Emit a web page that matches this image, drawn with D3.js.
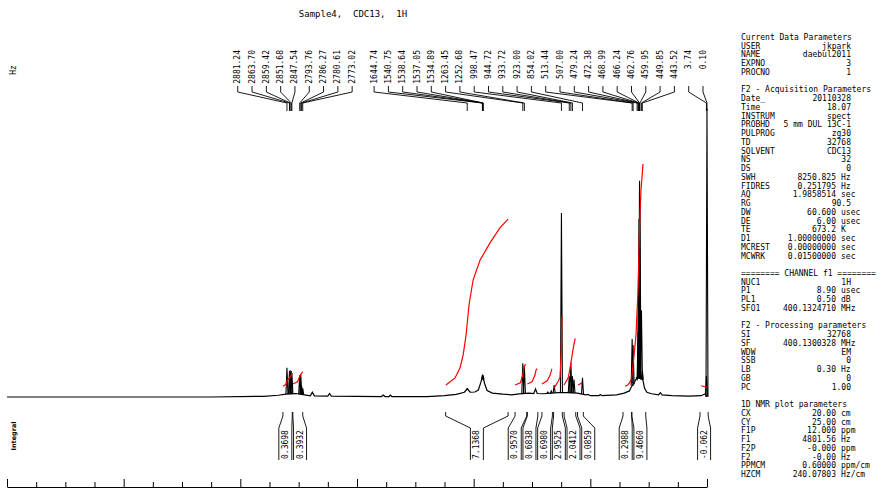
<!DOCTYPE html>
<html>
<head>
<meta charset="utf-8">
<script src="https://cdn.jsdelivr.net/npm/d3@7"></script>
<style>
  body { margin: 0; background: #fff; }
  svg text { font-family: "DejaVu Sans Mono", monospace; fill: #000; }
</style>
</head>
<body>
<svg id="chart" width="887" height="490"></svg>
<script>
// ---- data ----
const title = "Sample4,  CDC13,  1H";
const sf = 400.1300328;           // MHz, Hz -> ppm

// labelled lines (Hz) and their heights (tallest multiplet = 100)
const peakHz = [2881.24, 2863.70, 2859.42, 2851.68, 2847.54, 2793.76, 2786.27, 2780.61, 2773.02,
  1644.74, 1540.75, 1538.64, 1537.05, 1534.89, 1263.45, 1252.68, 998.47, 944.72, 933.72, 923.00,
  854.02, 513.44, 507.00, 479.24, 472.38, 468.99, 466.24, 462.76, 459.95, 449.85, 443.52, 3.74, 0.10];
const peakHeight = [13.5, 12, 12.3, 12, 11, 10, 10.2, 5, 4,
  3.5, 8.5, 9.8, 9.5, 8, 15.5, 14, 84.8, 9.5, 15.8, 9.5,
  8.8, 26.7, 24, 8, 30, 60, 82, 99.7, 90, 40, 12, 9.7, 133];

// unlabelled small lines (ppm)
const otherPpm = [2.73, 2.67, 2.62, 2.28];
const otherHeight = [2.3, 2.8, 5.5, 8];

// slow parts of the trace: [ppm, intensity]
const trace = [
  [12.0, 0], [8.5, 0], [7.60, 0.3], [7.35, 0.8], [7.22, 1.3], [7.05, 1.6], [6.90, 1.0], [6.80, 0.5],
  [6.765, 2.2], [6.73, 0.5], [6.50, 0.4], [6.47, 1.6], [6.44, 0.4], [5.58, 0.2], [5.55, 0.9], [5.52, 0.2],
  [5.45, 0.2], [5.43, 0.9], [5.40, 0.2], [4.80, 0.2], [4.50, 0.6], [4.30, 1.2], [4.16, 2.2], [4.11, 3.8],
  [4.06, 2.2], [3.98, 2.3], [3.92, 3.2], [3.88, 6.5], [3.845, 9.8], [3.81, 6], [3.77, 3], [3.68, 1.8],
  [3.50, 1.3], [3.35, 1.0], [3.22, 1.4], [3.05, 1.8], [2.97, 1.6], [2.94, 3.7], [2.91, 1.6], [2.80, 1.5],
  [2.55, 2.0], [2.40, 2.0], [2.22, 1.8], [2.08, 1.0], [2.04, 1.2], [2.00, 0.6], [1.85, 0.6], [1.83, 1.1],
  [1.80, 0.6], [1.55, 1.0], [1.42, 1.8], [1.33, 2.8], [1.30, 4.5], [1.24, 7], [1.20, 9], [1.10, 8],
  [1.07, 4], [1.03, 2.2], [0.95, 1.5], [0.83, 1.0], [0.80, 2.0], [0.77, 1.0], [0.60, 0.6], [0.30, 0.4],
  [0.10, 0.6], [0.03, 1.5], [0.012, 0.8], [0.0, 0]
];

// integrals
const integralRanges = [[7.27, 7.11], [7.10, 6.93], [4.48, 3.41], [3.29, 3.09], [3.08, 2.90], [2.83, 2.65],
  [2.63, 2.48], [2.45, 2.25], [2.22, 2.12], [1.44, 1.29], [1.29, 1.05], [0.12, -0.02]];
const integralValues = ["0.3698", "0.3932", "7.1368", "0.9570", "0.6838", "0.6980",
  "2.9525", "2.0412", "0.0859", "0.2988", "9.4660", "-0.062"];
const integralCurves = [
  [[7.27, 5.0], [7.22, 5.8], [7.20, 7.5], [7.15, 9.0], [7.12, 10.5], [7.11, 11.0]],
  [[7.10, 6.0], [7.02, 7.0], [6.98, 9.5], [6.95, 11.0], [6.93, 11.5]],
  [[4.475, 5.5], [4.32, 8.8], [4.235, 13.4], [4.18, 19.4], [4.13, 28.6], [4.08, 42.4], [4.01, 53.9],
   [3.89, 63.1], [3.72, 71.0], [3.55, 77.9], [3.41, 82.0]],
  [[3.29, 5.5], [3.20, 6.5], [3.16, 10.0], [3.13, 14.5], [3.10, 15.0]],
  [[3.08, 6.0], [3.00, 7.0], [2.95, 10.0], [2.93, 12.5], [2.91, 13.0]],
  [[2.83, 6.0], [2.74, 7.5], [2.69, 10.0], [2.66, 13.0]],
  [[2.623, 4.1], [2.555, 7.0], [2.52, 9.0], [2.50, 20.0], [2.49, 33.0], [2.485, 37.0]],
  [[2.45, 5.5], [2.38, 8.8], [2.35, 13.0], [2.32, 18.0], [2.29, 23.0], [2.26, 27.0]],
  [[2.21, 5.5], [2.14, 6.5]],
  [[1.40, 5.0], [1.36, 5.5], [1.33, 6.5], [1.29, 8.5]],
  [[1.29, 9.0], [1.25, 19.4], [1.217, 28.6], [1.183, 49.0], [1.166, 67.7], [1.149, 83.9], [1.132, 95.4], [1.097, 107.4]],
  [[0.10, 5.2], [0.0, 4.5]]
];

const majorTicks = [12, 10, 8, 6, 4, 2, 0];
const minorTicks = [11.5, 11, 10.5, 9.5, 9, 8.5, 7.5, 7, 6.5, 5.5, 5, 4.5, 3.5, 3, 2.5, 1.5, 1, 0.5];

// parameter block: [label, value, unit]
const params = [
  ["Current Data Parameters"],
  ["USER", "jkpark"], ["NAME", "daebul2011"], ["EXPNO", "3"], ["PROCNO", "1"],
  [],
  ["F2 - Acquisition Parameters"],
  ["Date_", "20110328"], ["Time", "18.07"], ["INSTRUM", "spect"], ["PROBHD", "5 mm DUL 13C-1"],
  ["PULPROG", "zg30"], ["TD", "32768"], ["SOLVENT", "CDC13"], ["NS", "32"], ["DS", "0"],
  ["SWH", "8250.825", "Hz"], ["FIDRES", "0.251795", "Hz"], ["AQ", "1.9858514", "sec"], ["RG", "90.5"],
  ["DW", "60.600", "usec"], ["DE", "6.00", "usec"], ["TE", "673.2", "K"], ["D1", "1.00000000", "sec"],
  ["MCREST", "0.00000000", "sec"], ["MCWRK", "0.01500000", "sec"],
  [],
  ["======== CHANNEL f1 ========"],
  ["NUC1", "1H"], ["P1", "8.90", "usec"], ["PL1", "0.50", "dB"], ["SFO1", "400.1324710", "MHz"],
  [],
  ["F2 - Processing parameters"],
  ["SI", "32768"], ["SF", "400.1300328", "MHz"], ["WDW", "EM"], ["SSB", "0"], ["LB", "0.30", "Hz"],
  ["GB", "0"], ["PC", "1.00"],
  [],
  ["1D NMR plot parameters"],
  ["CX", "20.00", "cm"], ["CY", "25.00", "cm"], ["F1P", "12.000", "ppm"], ["F1", "4801.56", "Hz"],
  ["F2P", "-0.000", "ppm"], ["F2", "-0.00", "Hz"], ["PPMCM", "0.60000", "ppm/cm"], ["HZCM", "240.07803", "Hz/cm"]
];

// ---- layout ----
const svg = d3.select("#chart");
const x = d3.scaleLinear().domain([12, 0]).range([7, 707]);
const y = d3.scaleLinear().domain([0, 100]).range([397, 180]);

// baseline value of the slow trace at a ppm
function baseAt(p) {
  for (let i = 1; i < trace.length; i++) {
    let a = trace[i - 1], b = trace[i];
    if (p <= a[0] && p >= b[0]) {
      let t = (a[0] - p) / (a[0] - b[0]);
      return a[1] + t * (b[1] - a[1]);
    }
  }
  return 0;
}

// title and side labels
svg.append("text").attr("x", 353).attr("y", 17).attr("text-anchor", "middle")
  .style("font-size", "9px").style("white-space", "pre").text(title);
svg.append("text").attr("transform", "translate(13,70)rotate(-90)").attr("text-anchor", "middle")
  .attr("dominant-baseline", "central").style("font-size", "8px").text("Hz");
svg.append("text").attr("transform", "translate(14,436)rotate(-90)").attr("text-anchor", "middle")
  .attr("dominant-baseline", "central").style("font-family", "'DejaVu Sans'").style("font-weight", "bold")
  .style("font-size", "6.5px").text("Integral");

// spectrum
let line = d3.line().x(d => x(d[0])).y(d => y(d[1]));
let pix = d3.line();
svg.append("path").datum(trace).attr("fill", "none").attr("stroke", "#000")
  .attr("stroke-width", 1.2).attr("d", line);

let spikes = peakHz.map((hz, i) => [hz / sf, peakHeight[i]])
  .concat(otherPpm.map((p, i) => [p, otherHeight[i]]));
spikes.forEach(s => {
  let px = x(s[0]), yb = y(baseAt(s[0]));
  svg.append("path").attr("fill", "none").attr("stroke", "#000").attr("stroke-width", 1.1)
    .attr("d", pix([[px - 1, yb], [px, y(s[1])], [px + 1, yb]]));
});

// integral curves
integralCurves.forEach(c => {
  svg.append("path").datum(c).attr("fill", "none").attr("stroke", "#ff0000")
    .attr("stroke-width", 1.2).attr("d", line);
});

// spread labels so they do not overlap
function spread(ideal, gap, maxX) {
  let groups = ideal.map(v => ({ n: 1, sum: v, start: v }));
  let changed = true;
  while (changed) {
    changed = false;
    for (let i = 0; i < groups.length - 1; i++) {
      let a = groups[i], b = groups[i + 1];
      if (a.start + a.n * gap > b.start) {
        let g = { n: a.n + b.n, sum: a.sum + b.sum };
        g.start = g.sum / g.n - (g.n - 1) * gap / 2;
        groups.splice(i, 2, g);
        changed = true;
        break;
      }
    }
  }
  let pos = [];
  groups.forEach(g => { for (let k = 0; k < g.n; k++) pos.push(g.start + k * gap); });
  for (let i = pos.length - 1; i >= 0; i--) {
    let lim = i === pos.length - 1 ? maxX : pos[i + 1] - gap;
    pos[i] = Math.min(pos[i], lim);
  }
  return pos;
}

// peak labels with leaders
let peakX = peakHz.map(hz => x(hz / sf));
let labX = spread(peakX, 14.3, 703);
let leaders = svg.append("g").attr("fill", "none").attr("stroke", "#000").attr("stroke-width", 0.9);
peakHz.forEach((hz, i) => {
  svg.append("text").attr("transform", `translate(${labX[i]},50)rotate(-90)`)
    .attr("text-anchor", "end").attr("dominant-baseline", "central")
    .style("font-size", "8px").text(hz.toFixed(2));
  leaders.append("path").attr("d", pix([[labX[i], 86], [labX[i], 92], [peakX[i], 103], [peakX[i], 111]]));
});

// integral labels with brackets
let intCenter = integralRanges.map(r => (x(r[0]) + x(r[1])) / 2);
let intX = spread(intCenter, 14.7, 880);
let brackets = svg.append("g").attr("fill", "none").attr("stroke", "#000").attr("stroke-width", 0.9);
integralRanges.forEach((r, i) => {
  let x1 = x(r[0]), x2 = x(r[1]), l = intX[i] - 6.5, rr = intX[i] + 6.5;
  brackets.append("path").attr("d", pix([[x1, 412], [x1, 416], [l, 428], [l, 460]]));
  brackets.append("path").attr("d", pix([[x2, 412], [x2, 416], [rr, 428], [rr, 460]]));
  svg.append("text").attr("transform", `translate(${intX[i]},459)rotate(-90)`)
    .attr("text-anchor", "start").attr("dominant-baseline", "central")
    .style("font-size", "8px").text(integralValues[i]);
});

// ppm axis (labels fall below the picture)
svg.append("g").attr("transform", "translate(0,487)")
  .call(d3.axisTop(x).tickValues(minorTicks).tickSize(5).tickSizeOuter(0).tickFormat(""))
  .call(g => g.selectAll("line,path").attr("stroke-width", 1));
svg.append("g").attr("transform", "translate(0,487)")
  .call(d3.axisTop(x).tickValues(majorTicks).tickSize(8).tickSizeOuter(0).tickFormat(""))
  .call(g => g.select(".domain").remove());

// parameter block
let panel = svg.append("g").style("font-size", "8px").style("white-space", "pre");
params.forEach((p, i) => {
  let yy = 40 + i * 8.74;
  if (p.length === 0) return;
  panel.append("text").attr("x", 741).attr("y", yy).text(p[0]);
  if (p.length === 2) {
    panel.append("text").attr("x", 851).attr("y", yy).attr("text-anchor", "end").text(p[1]);
  } else if (p.length === 3) {
    panel.append("text").attr("x", 836).attr("y", yy).attr("text-anchor", "end").text(p[1]);
    panel.append("text").attr("x", 841).attr("y", yy).text(p[2]);
  }
});
</script>
</body>
</html>
